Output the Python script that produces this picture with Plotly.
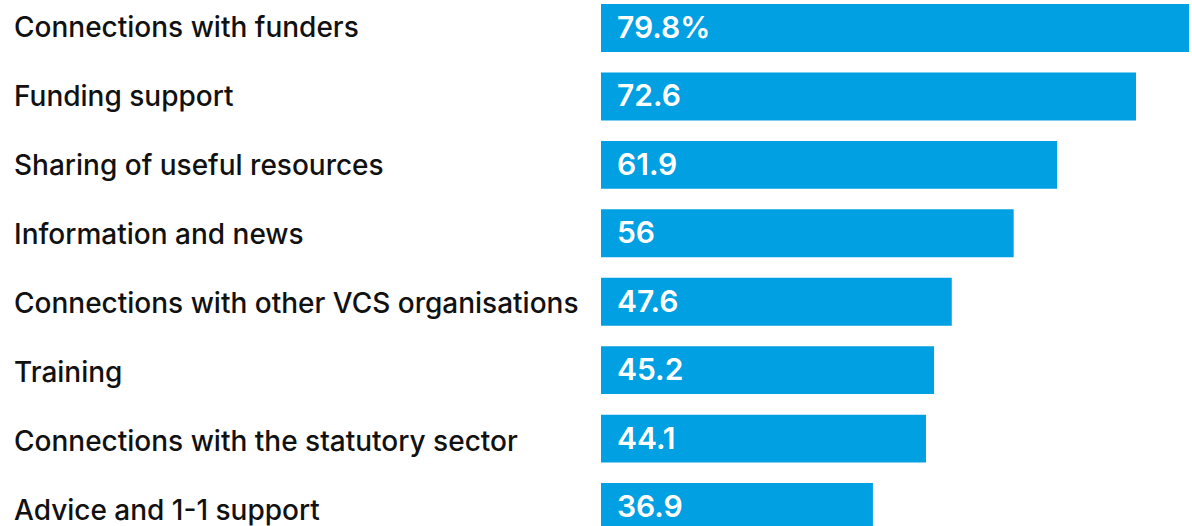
import plotly.graph_objects as go

categories = [
    "Connections with funders",
    "Funding support",
    "Sharing of useful resources",
    "Information and news",
    "Connections with other VCS organisations",
    "Training",
    "Connections with the statutory sector",
    "Advice and 1-1 support",
]
values = [79.8, 72.6, 61.9, 56, 47.6, 45.2, 44.1, 36.9]
value_labels = ["79.8%", "72.6", "61.9", "56", "47.6", "45.2", "44.1", "36.9"]

BAR = "#00a0e3"
W, H = 1192, 526
L = 601

fig = go.Figure(
    go.Bar(
        x=values,
        y=categories,
        orientation="h",
        marker=dict(color=BAR, line=dict(width=0)),
        hoverinfo="skip",
    )
)

# value labels inside the bars, left aligned
for cat, lab in zip(categories, value_labels):
    fig.add_annotation(
        x=0, y=cat, text=lab, showarrow=False,
        xanchor="left", xshift=14, yshift=1,
        font=dict(family="Inter", size=30, color="white", weight=600),
    )

# category labels, left aligned at the page edge
for i, cat in enumerate(categories):
    fig.add_annotation(
        xref="paper", x=(12 - L) / (W - L), y=cat, text=cat,
        showarrow=False, xanchor="left", yshift=1 - 0.6 * i,
        font=dict(family="Inter", size=28, color="#111111", weight=500),
    )

fig.update_layout(
    width=W,
    height=H,
    margin=dict(l=L, r=0, t=0, b=0),
    plot_bgcolor="white",
    paper_bgcolor="white",
    bargap=0.3,
    showlegend=False,
    xaxis=dict(range=[0, 80.2], visible=False, fixedrange=True),
    yaxis=dict(
        range=[7.277, -0.409],
        showticklabels=False,
        showgrid=False,
        zeroline=False,
        fixedrange=True,
    ),
)

fig.write_html(
    "out.html",
    config={"displayModeBar": False},
    post_script="document.body.style.margin='0';document.body.style.overflow='hidden';",
)
